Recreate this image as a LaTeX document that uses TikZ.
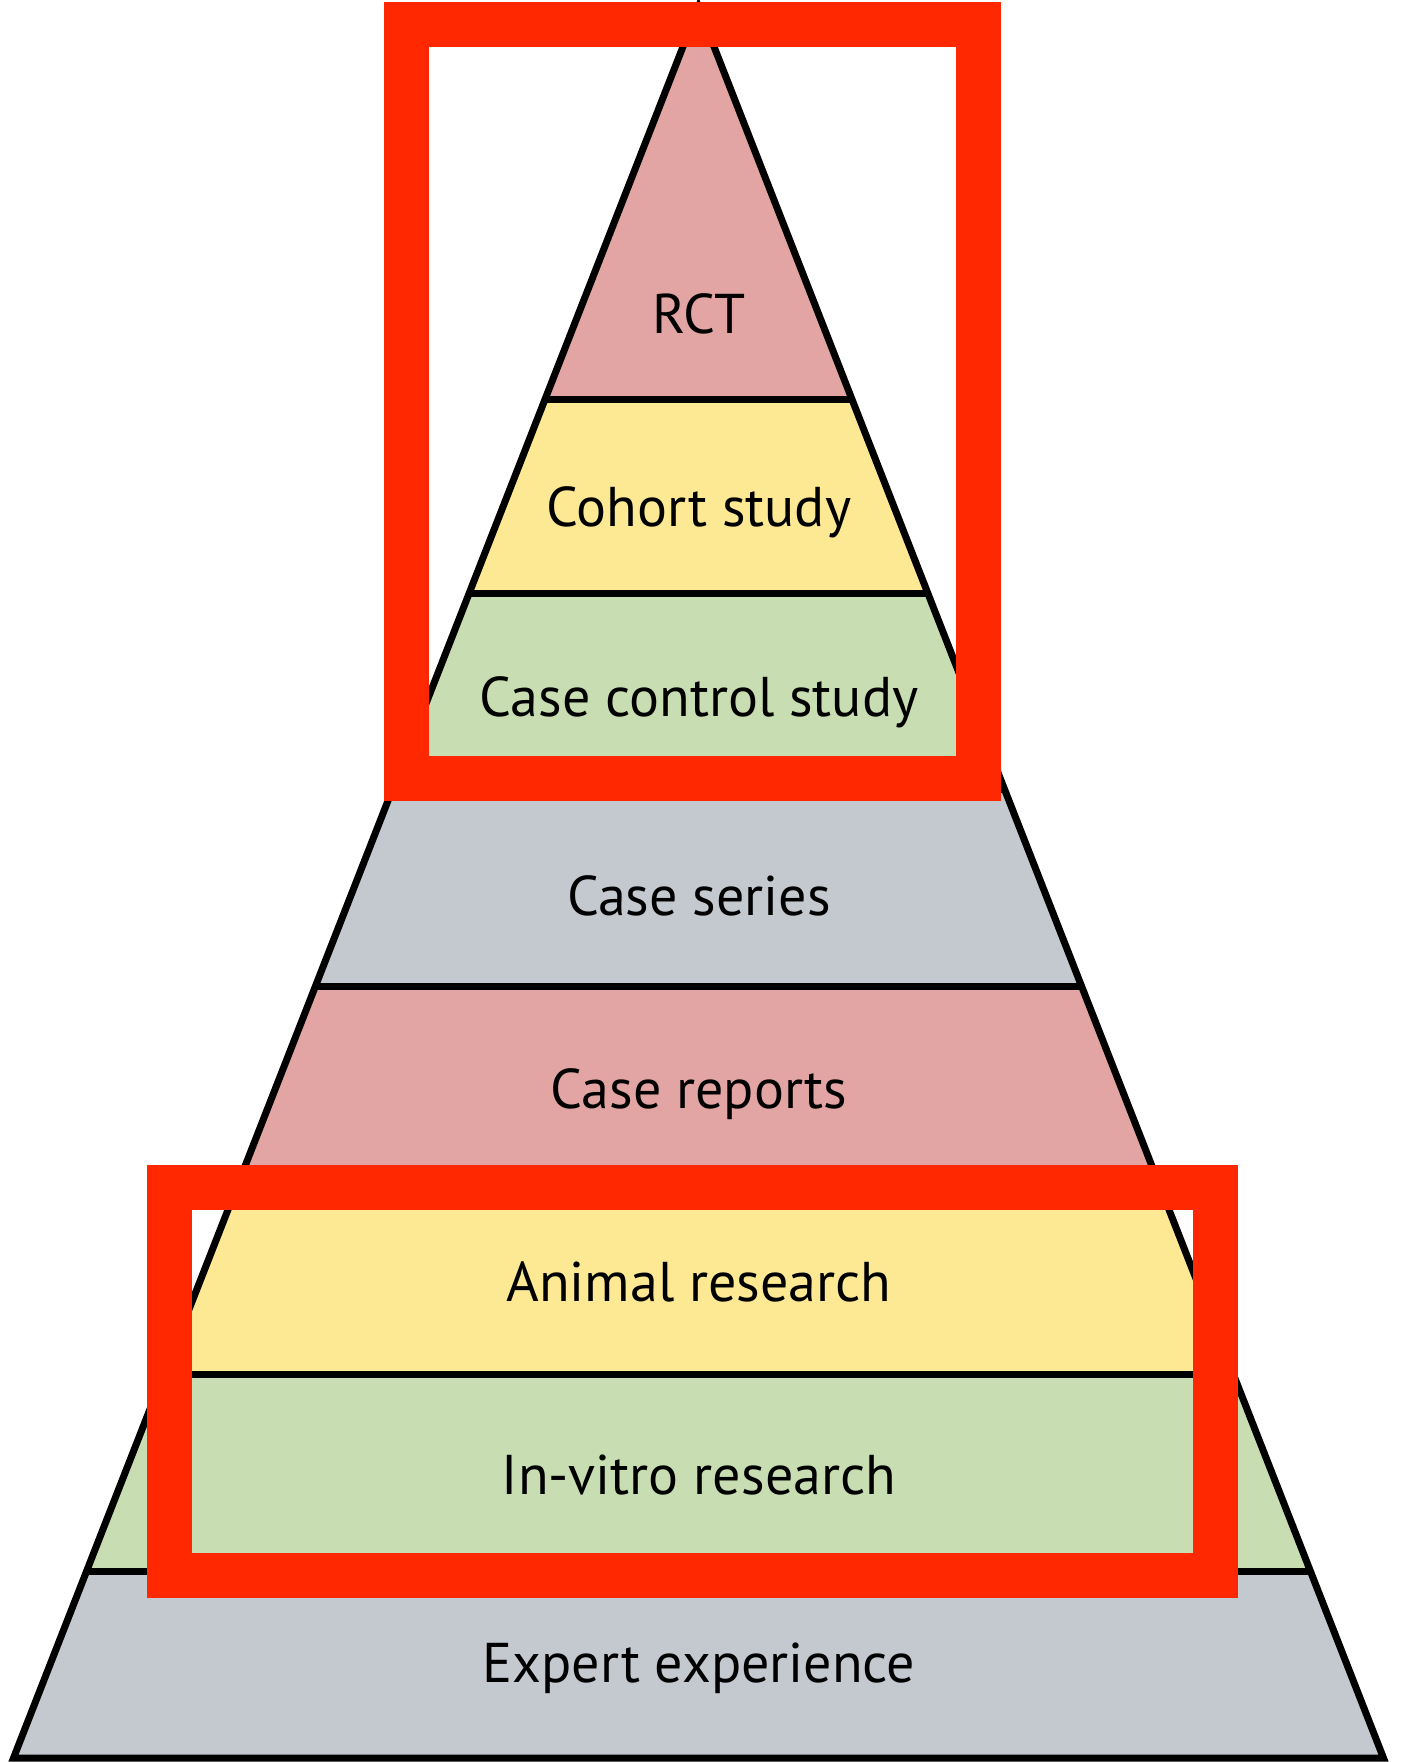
\documentclass[tikz,border=0pt]{standalone}
\usepackage{fontspec}
\setmainfont{PT Sans}
\definecolor{pk}{HTML}{E2A5A3}
\definecolor{yl}{HTML}{FDE893}
\definecolor{gn}{HTML}{C8DEB2}
\definecolor{gy}{HTML}{C4C8CF}
\definecolor{rd}{HTML}{FF2800}
\begin{document}
\begin{tikzpicture}[x=1pt,y=-1pt,
  lbl/.style={anchor=base,inner sep=0pt,font=\fontsize{56}{64}\selectfont,text=black},
  sep/.style={line width=7pt},
  hl/.style={draw=rd,line width=45pt,line join=miter}]
\useasboundingbox (0,0) rectangle (1402,1762);
\coordinate (apex) at (698.5,7);
\coordinate (bl) at (13.5,1758);
\coordinate (br) at (1383.5,1758);
\begin{scope}
\clip (apex) -- (bl) -- (br) -- cycle;
\fill[pk] (0,0) rectangle (1402,399);
\fill[yl] (0,399) rectangle (1402,593);
\fill[gn] (0,593) rectangle (1402,789);
\fill[gy] (0,789) rectangle (1402,986);
\fill[pk] (0,986) rectangle (1402,1180);
\fill[yl] (0,1180) rectangle (1402,1374);
\fill[gn] (0,1374) rectangle (1402,1571);
\fill[gy] (0,1571) rectangle (1402,1762);
\foreach \y in {399,593,789,986,1180,1374,1571} \draw[sep] (0,\y) -- (1402,\y);
\end{scope}
\draw[line width=7pt,line join=miter] (apex) -- (bl) -- (br) -- cycle;
\node[lbl] (rct) at (699,333) {RCT};
\node[lbl] (coh) at (699,526) {Cohort study};
\node[lbl] (cc) at (699,716) {Case control study};
\node[lbl] (cs) at (699,915) {Case series};
\node[lbl] (cr) at (699,1108) {Case reports};
\node[lbl] (an) at (699,1301) {Animal research};
\node[lbl] (iv) at (699,1494) {In-vitro research};
\node[lbl] (ex) at (699,1682) {Expert experience};
\draw[hl] (406.5,24) rectangle (978.5,778.5);
\draw[hl] (169,1187) rectangle (1215,1575);
\end{tikzpicture}
\end{document}
